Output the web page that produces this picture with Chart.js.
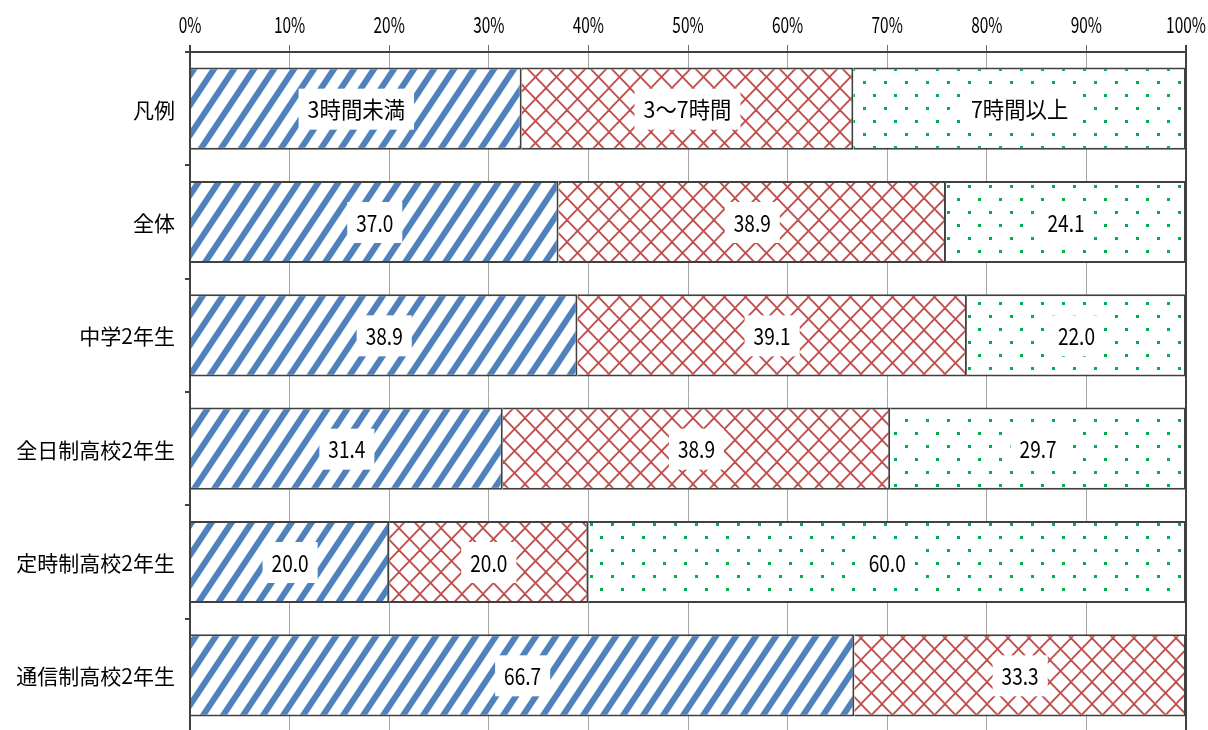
<!DOCTYPE html>
<html>
<head>
<meta charset="utf-8">
<script src="https://cdn.jsdelivr.net/npm/chart.js@4"></script>
<style>
  html, body { margin: 0; padding: 0; background: #fff; overflow: hidden; }
  #wrap { width: 1208px; height: 732px; }
</style>
</head>
<body>
<div id="wrap"><canvas id="barChart"></canvas></div>
<script>
// categories and series (percent)
const categories = ['凡例', '全体', '中学2年生', '全日制高校2年生', '定時制高校2年生', '通信制高校2年生'];
const seriesNames = ['3時間未満', '3～7時間', '7時間以上'];
const under3h = [33.3, 37.0, 38.9, 31.4, 20.0, 66.7];
const from3to7h = [33.3, 38.9, 39.1, 38.9, 20.0, 33.3];
const over7h = [33.4, 24.1, 22.0, 29.7, 60.0, null];
const xTicks = [0, 10, 20, 30, 40, 50, 60, 70, 80, 90, 100];

const FONT = "'Noto Sans CJK JP', 'Noto Sans', sans-serif";

// pattern tiles
function makeTile(w, h, draw) {
  const c = document.createElement('canvas');
  c.width = w; c.height = h;
  const g = c.getContext('2d');
  g.fillStyle = '#fff';
  g.fillRect(0, 0, w, h);
  draw(g, w, h);
  return document.getElementById('barChart').getContext('2d').createPattern(c, 'repeat');
}

// blue upward diagonal stripes
const stripePattern = makeTile(20, 30, function (g, w, h) {
  g.strokeStyle = '#4F81BD';
  g.lineWidth = 6;
  for (let k = -1; k <= 1; k++) {
    g.beginPath();
    g.moveTo(k * w - w * 0.2, h * 1.2);
    g.lineTo(k * w + w * 1.2, -h * 0.2);
    g.stroke();
  }
});

// red diamond lattice
const latticePattern = makeTile(21, 22, function (g, w, h) {
  g.strokeStyle = '#C0504D';
  g.lineWidth = 1.8;
  for (let k = -1; k <= 1; k++) {
    g.beginPath();
    g.moveTo(k * w - 2, h + 2);
    g.lineTo(k * w + w + 2, -2);
    g.stroke();
    g.beginPath();
    g.moveTo(k * w - 2, -2);
    g.lineTo(k * w + w + 2, h + 2);
    g.stroke();
  }
});

// green dots
const dotPattern = makeTile(21, 26, function (g) {
  g.fillStyle = '#00B050';
  g.fillRect(2, 3, 3, 3);
  g.fillRect(12, 16, 3, 3);
});

// draw text squeezed horizontally (the original uses a condensed face)
function squeezed(ctx, text, x, y, sx) {
  ctx.save();
  ctx.translate(x, y);
  ctx.scale(sx, 1);
  ctx.fillText(text, 0, 0);
  ctx.restore();
}

// segment labels with a white box, plus axis labels
const chartText = {
  id: 'chartText',
  afterDatasetsDraw(chart) {
    const ctx = chart.ctx;
    ctx.save();
    ctx.font = '23px ' + FONT;
    ctx.textAlign = 'center';
    ctx.textBaseline = 'middle';
    chart.data.datasets.forEach((ds, i) => {
      const meta = chart.getDatasetMeta(i);
      meta.data.forEach((bar, j) => {
        const v = ds.data[j];
        if (v == null) return;
        const text = j === 0 ? seriesNames[i] : v.toFixed(1);
        const sx = j === 0 ? 0.93 : 0.83;
        const p = bar.getProps(['x', 'y', 'base'], true);
        const cx = (p.x + p.base) / 2;
        const tw = ctx.measureText(text).width * sx;
        ctx.fillStyle = '#fff';
        ctx.fillRect(cx - tw / 2 - 9, p.y - 20, tw + 18, 41);
        ctx.fillStyle = '#000';
        squeezed(ctx, text, cx, p.y + 1, sx);
      });
    });
    ctx.restore();
  },
  afterDraw(chart) {
    const ctx = chart.ctx;
    const xs = chart.scales.x;
    const ys = chart.scales.y;
    ctx.save();
    ctx.fillStyle = '#000';
    ctx.font = '22px ' + FONT;
    ctx.textAlign = 'center';
    ctx.textBaseline = 'alphabetic';
    xTicks.forEach(v => squeezed(ctx, v + '%', xs.getPixelForValue(v), 33, 0.7));
    ctx.font = '21px ' + FONT;
    ctx.textAlign = 'right';
    ctx.textBaseline = 'middle';
    categories.forEach((c, j) => squeezed(ctx, c, 175, ys.getPixelForValue(j) + 1, 1));
    ctx.restore();
  }
};

const edgeColor = '#404040';
const isEdge = c => c.tick && (c.tick.value === 0 || c.tick.value === 100);

new Chart(document.getElementById('barChart'), {
  type: 'bar',
  data: {
    labels: categories,
    datasets: [
      { label: seriesNames[0], data: under3h, backgroundColor: stripePattern },
      { label: seriesNames[1], data: from3to7h, backgroundColor: latticePattern },
      { label: seriesNames[2], data: over7h, backgroundColor: dotPattern }
    ]
  },
  options: {
    indexAxis: 'y',
    responsive: true,
    maintainAspectRatio: false,
    animation: false,
    devicePixelRatio: 1,
    layout: { padding: { left: 0, right: 22, top: 0, bottom: 0 } },
    datasets: {
      bar: {
        borderColor: edgeColor,
        borderWidth: 2,
        categoryPercentage: 1,
        barPercentage: 0.725
      }
    },
    plugins: {
      legend: { display: false },
      tooltip: { enabled: false }
    },
    scales: {
      x: {
        position: 'top',
        stacked: true,
        min: 0,
        max: 100,
        afterBuildTicks: scale => { scale.ticks = xTicks.map(v => ({ value: v })); },
        afterFit: scale => { scale.height = 52; },
        border: { color: edgeColor, width: 2 },
        grid: {
          color: c => isEdge(c) ? edgeColor : '#a6a6a6',
          lineWidth: c => isEdge(c) ? 2 : 1,
          tickColor: c => isEdge(c) ? edgeColor : '#707070',
          tickLength: 7
        },
        ticks: { display: false }
      },
      y: {
        stacked: true,
        afterFit: scale => { scale.width = 190; },
        border: { color: edgeColor, width: 2 },
        grid: {
          offset: true,
          drawOnChartArea: false,
          tickColor: edgeColor,
          tickLength: 5,
          lineWidth: 2
        },
        ticks: { display: false }
      }
    }
  },
  plugins: [chartText]
});
</script>
</body>
</html>
